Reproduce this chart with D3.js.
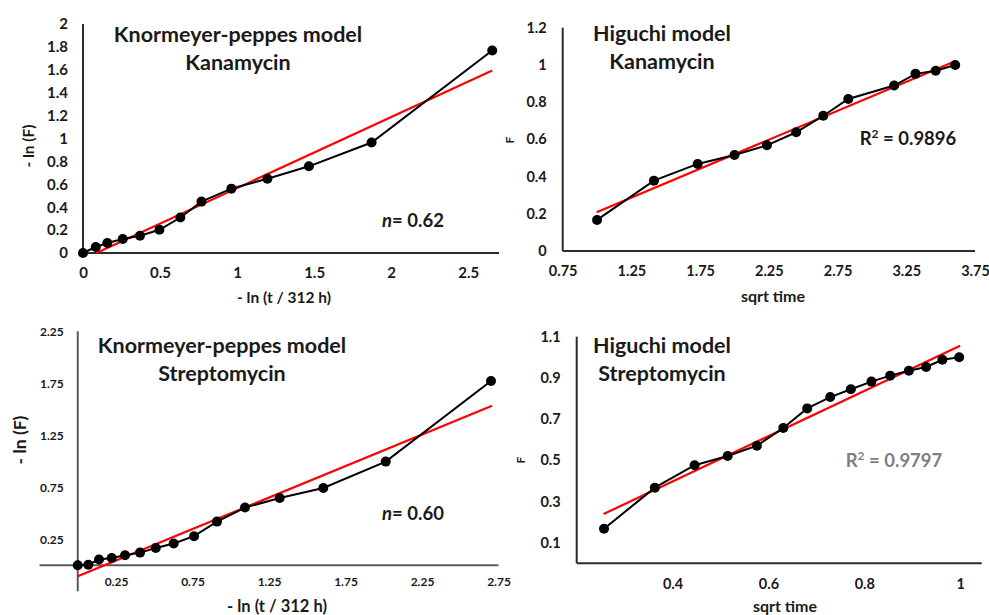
<!DOCTYPE html>
<html>
<head>
<meta charset="utf-8">
<script src="https://cdn.jsdelivr.net/npm/d3@7/dist/d3.min.js"></script>
<style>
  html, body { margin: 0; padding: 0; background: #fff; }
  svg text { font-family: Lato, "Open Sans", sans-serif; font-weight: bold; fill: #1a1a1a; }
</style>
</head>
<body>
<svg id="chart" width="989" height="615"></svg>
<script>
// ---------- DATA ----------
// Panel A: Korsmeyer-Peppas, Kanamycin
const kpKanaX = [0, 0.083, 0.158, 0.258, 0.37, 0.496, 0.632, 0.769, 0.963, 1.197, 1.466, 1.873, 2.656];
const kpKanaY = [0, 0.052, 0.087, 0.122, 0.15, 0.203, 0.31, 0.449, 0.562, 0.649, 0.757, 0.965, 1.768];
const kpKanaFitX = [0.087, 2.656];
const kpKanaFitY = [0, 1.594];
const kpKanaXTicks = [0, 0.5, 1, 1.5, 2, 2.5];
const kpKanaYTicks = [0, 0.2, 0.4, 0.6, 0.8, 1, 1.2, 1.4, 1.6, 1.8, 2];

// Panel B: Higuchi, Kanamycin
const hgKanaX = [1, 1.414, 1.732, 2, 2.236, 2.449, 2.646, 2.828, 3.162, 3.317, 3.464, 3.606];
const hgKanaY = [0.167, 0.378, 0.468, 0.516, 0.568, 0.638, 0.727, 0.817, 0.889, 0.952, 0.969, 1.0];
const hgKanaFitX = [0.997, 3.61];
const hgKanaFitY = [0.208, 1.021];
const hgKanaXTicks = [0.75, 1.25, 1.75, 2.25, 2.75, 3.25, 3.75];
const hgKanaYTicks = [0, 0.2, 0.4, 0.6, 0.8, 1, 1.2];

// Panel C: Korsmeyer-Peppas, Streptomycin
const kpStrepX = [0, 0.069, 0.139, 0.222, 0.309, 0.407, 0.51, 0.627, 0.76, 0.91, 1.093, 1.32, 1.605, 2.013, 2.701];
const kpStrepY = [0, 0.006, 0.055, 0.07, 0.096, 0.122, 0.167, 0.21, 0.28, 0.42, 0.555, 0.647, 0.743, 0.997, 1.772];
const kpStrepFitX = [0, 2.708];
const kpStrepFitY = [-0.106, 1.535];
const kpStrepXTicks = [0.25, 0.75, 1.25, 1.75, 2.25, 2.75];
const kpStrepYTicks = [0.25, 0.75, 1.25, 1.75, 2.25];

// Panel D: Higuchi, Streptomycin
const hgStrepX = [0.257, 0.363, 0.446, 0.515, 0.576, 0.631, 0.681, 0.729, 0.772, 0.815, 0.854, 0.893, 0.929, 0.963, 0.998];
const hgStrepY = [0.168, 0.367, 0.476, 0.521, 0.571, 0.657, 0.752, 0.807, 0.845, 0.882, 0.911, 0.935, 0.953, 0.988, 1.0];
const hgStrepFitX = [0.256, 1.0];
const hgStrepFitY = [0.239, 1.056];
const hgStrepXTicks = [0.4, 0.6, 0.8, 1];
const hgStrepYTicks = [0.1, 0.3, 0.5, 0.7, 0.9, 1.1];

// ---------- DRAWING ----------
const svg = d3.select("#chart");

function panel(cfg) {
  const g = svg.append("g");
  const x = d3.scaleLinear().domain(cfg.xDomain).range(cfg.xRange);
  const y = d3.scaleLinear().domain(cfg.yDomain).range(cfg.yRange);
  const axisColor = cfg.axisColor;
  const x0 = cfg.xAxisAt, y0 = cfg.yAxisAt;

  const xAxis = d3.axisBottom(x).tickValues(cfg.xTicks).tickSize(0).tickPadding(cfg.xPad)
    .tickFormat(d3.format(""));
  const gx = g.append("g").attr("transform", `translate(0,${y(x0)})`).call(xAxis);
  gx.attr("font-family", null).attr("font-size", null);
  gx.select(".domain").attr("stroke", axisColor).attr("stroke-width", 2).attr("d", `M${cfg.xRange[0]},0H${cfg.xRange[1]}`);
  gx.selectAll("text").style("font-size", cfg.tickSize + "px").attr("fill", "#1a1a1a");

  const yAxis = d3.axisLeft(y).tickValues(cfg.yTicks).tickSize(0).tickPadding(cfg.yPad)
    .tickFormat(d3.format(""));
  const gy = g.append("g").attr("transform", `translate(${x(y0)},0)`).call(yAxis);
  gy.attr("font-family", null).attr("font-size", null);
  gy.select(".domain").attr("stroke", axisColor).attr("stroke-width", 2).attr("d", `M0,${cfg.yRange[0]}V${cfg.yRange[1]}`);
  gy.selectAll("text").style("font-size", cfg.tickSize + "px").attr("fill", "#1a1a1a");

  const line = d3.line().x(d => x(d[0])).y(d => y(d[1]));
  g.append("path").datum(d3.zip(cfg.fitX, cfg.fitY)).attr("d", line)
    .attr("fill", "none").attr("stroke", "#ff0000").attr("stroke-width", 2.2);

  const pts = d3.zip(cfg.dataX, cfg.dataY);
  g.append("path").datum(pts).attr("d", line)
    .attr("fill", "none").attr("stroke", "#000").attr("stroke-width", 2);
  g.selectAll("circle.pt").data(pts).enter().append("circle").attr("class", "pt")
    .attr("cx", d => x(d[0])).attr("cy", d => y(d[1])).attr("r", 5).attr("fill", "#000");

  cfg.title.forEach((t, i) => {
    g.append("text").attr("x", cfg.titlePos[0]).attr("y", cfg.titlePos[1] + i * 28)
      .attr("text-anchor", "middle").style("font-size", "21.5px").text(t);
  });

  g.append("text").attr("x", cfg.xTitlePos[0]).attr("y", cfg.xTitlePos[1])
    .attr("text-anchor", "middle").style("font-size", cfg.xTitleSize + "px").text(cfg.xTitle);
  g.append("text").attr("transform", `translate(${cfg.yTitlePos[0]},${cfg.yTitlePos[1]}) rotate(-90)`)
    .attr("text-anchor", "middle").attr("dominant-baseline", "central")
    .style("font-size", cfg.yTitleSize + "px").text(cfg.yTitle);

  const ann = g.append("text").attr("x", cfg.annPos[0]).attr("y", cfg.annPos[1])
    .attr("text-anchor", "middle").style("font-size", "18.5px").style("fill", cfg.annColor);
  cfg.ann(ann);
}

panel({
  xDomain: [0, 2.7], xRange: [83, 499], yDomain: [0, 2], yRange: [253, 24],
  xAxisAt: 0, yAxisAt: 0, axisColor: "#2b2b2b",
  xTicks: kpKanaXTicks, yTicks: kpKanaYTicks, xPad: 14, yPad: 15, tickSize: 15,
  dataX: kpKanaX, dataY: kpKanaY, fitX: kpKanaFitX, fitY: kpKanaFitY,
  title: ["Knormeyer-peppes model", "Kanamycin"], titlePos: [238, 42],
  xTitle: "- ln (t / 312 h)", xTitlePos: [284, 303], xTitleSize: 15.5,
  yTitle: "- ln (F)", yTitlePos: [28, 146], yTitleSize: 15.5,
  annPos: [413, 227], annColor: "#1a1a1a",
  ann: t => { t.append("tspan").style("font-style", "italic").text("n"); t.append("tspan").text("= 0.62"); }
});

panel({
  xDomain: [0.75, 3.75], xRange: [562.7, 975], yDomain: [0, 1.2], yRange: [251, 27.7],
  xAxisAt: 0, yAxisAt: 0.75, axisColor: "#2b2b2b",
  xTicks: hgKanaXTicks, yTicks: hgKanaYTicks, xPad: 15, yPad: 16, tickSize: 14.5,
  dataX: hgKanaX, dataY: hgKanaY, fitX: hgKanaFitX, fitY: hgKanaFitY,
  title: ["Higuchi model", "Kanamycin"], titlePos: [662, 41],
  xTitle: "sqrt time", xTitlePos: [773, 302], xTitleSize: 16,
  yTitle: "F", yTitlePos: [509, 140], yTitleSize: 12,
  annPos: [908, 145], annColor: "#1a1a1a",
  ann: t => { t.append("tspan").text("R"); t.append("tspan").attr("dy", -7).style("font-size", "12px").text("2"); t.append("tspan").attr("dy", 7).text(" = 0.9896"); }
});

panel({
  xDomain: [-0.25, 2.75], xRange: [39.5, 498.5], yDomain: [-0.25, 2.25], yRange: [591.3, 331.3],
  xAxisAt: 0, yAxisAt: 0, axisColor: "#5a5a5a",
  xTicks: kpStrepXTicks, yTicks: kpStrepYTicks, xPad: 12, yPad: 14, tickSize: 12,
  dataX: kpStrepX, dataY: kpStrepY, fitX: kpStrepFitX, fitY: kpStrepFitY,
  title: ["Knormeyer-peppes model", "Streptomycin"], titlePos: [222, 353],
  xTitle: "- ln (t / 312 h)", xTitlePos: [277, 612], xTitleSize: 16.5,
  yTitle: "- ln (F)", yTitlePos: [19, 440], yTitleSize: 17.5,
  annPos: [413, 520], annColor: "#1a1a1a",
  ann: t => { t.append("tspan").style("font-style", "italic").text("n"); t.append("tspan").text("= 0.60"); }
});

panel({
  xDomain: [0.2, 1.045], xRange: [576.7, 981.7], yDomain: [0, 1.1], yRange: [563.3, 336.7],
  xAxisAt: 0, yAxisAt: 0.2, axisColor: "#2b2b2b",
  xTicks: hgStrepXTicks, yTicks: hgStrepYTicks, xPad: 15, yPad: 16, tickSize: 14.5,
  dataX: hgStrepX, dataY: hgStrepY, fitX: hgStrepFitX, fitY: hgStrepFitY,
  title: ["Higuchi model", "Streptomycin"], titlePos: [662, 353],
  xTitle: "sqrt time", xTitlePos: [785, 612], xTitleSize: 16,
  yTitle: "F", yTitlePos: [520, 460], yTitleSize: 12,
  annPos: [894, 467], annColor: "#7f7f7f",
  ann: t => { t.append("tspan").text("R"); t.append("tspan").attr("dy", -7).style("font-size", "12px").text("2"); t.append("tspan").attr("dy", 7).text(" = 0.9797"); }
});
</script>
</body>
</html>
